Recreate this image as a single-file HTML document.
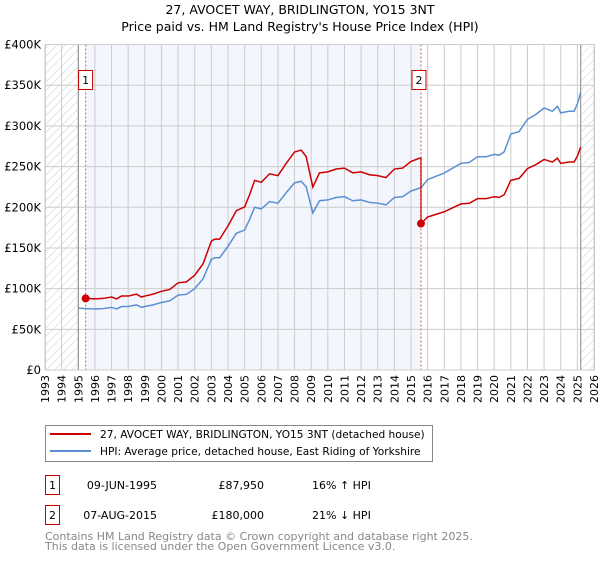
<!DOCTYPE html>
<html><head><meta charset="utf-8"><style>
body{margin:0;background:#fff;font-family:"DejaVu Sans","Liberation Sans",sans-serif;}
svg text{font-family:"DejaVu Sans","Liberation Sans",sans-serif;}
</style></head><body>
<svg id="chart" width="600" height="560" viewBox="0 0 600 560" xmlns="http://www.w3.org/2000/svg">
<defs>
<pattern id="hatch" width="6" height="6" patternUnits="userSpaceOnUse" patternTransform="rotate(45)">
<line x1="0" y1="0" x2="0" y2="6" stroke="#ccc" stroke-width="1"/>
</pattern>
</defs>
<text x="300" y="14" text-anchor="middle" font-size="12.5" fill="#000">27, AVOCET WAY, BRIDLINGTON, YO15 3NT</text>
<text x="300" y="31" text-anchor="middle" font-size="12.5" fill="#000">Price paid vs. HM Land Registry's House Price Index (HPI)</text>
<g id="plot"></g>
<g>
<rect x="45.5" y="425.5" width="387" height="36" fill="#fff" stroke="#888"/>
<line x1="50" y1="434" x2="91" y2="434" stroke="#cc0000" stroke-width="2"/>
<text x="100" y="438" font-size="10.6">27, AVOCET WAY, BRIDLINGTON, YO15 3NT (detached house)</text>
<line x1="50" y1="451" x2="91" y2="451" stroke="#5b8fd4" stroke-width="2"/>
<text x="100" y="455" font-size="10.6">HPI: Average price, detached house, East Riding of Yorkshire</text>
</g>
<g>
<rect x="45.5" y="475.5" width="14" height="19" fill="#fff" stroke="#cc0000"/>
<text x="52.5" y="489" font-size="11" text-anchor="middle">1</text>
<text x="157" y="489" font-size="11" text-anchor="end">09-JUN-1995</text>
<text x="264" y="489" font-size="11" text-anchor="end">£87,950</text>
<text x="312" y="489" font-size="11">16% ↑ HPI</text>
<rect x="45.5" y="505.5" width="14" height="19" fill="#fff" stroke="#cc0000"/>
<text x="52.5" y="519" font-size="11" text-anchor="middle">2</text>
<text x="157" y="519" font-size="11" text-anchor="end">07-AUG-2015</text>
<text x="264" y="519" font-size="11" text-anchor="end">£180,000</text>
<text x="312" y="519" font-size="11">21% ↓ HPI</text>
</g>
<text x="45" y="540" font-size="11" fill="#888">Contains HM Land Registry data © Crown copyright and database right 2025.</text>
<text x="45" y="550" font-size="11" fill="#888">This data is licensed under the Open Government Licence v3.0.</text>
</svg>
<script>
const hpiYears = [1995.0,1995.44,1996,1996.5,1997,1997.3,1997.6,1998,1998.5,1998.8,1999,1999.5,2000,2000.5,2001,2001.5,2002,2002.5,2003,2003.2,2003.5,2004,2004.5,2005,2005.3,2005.6,2006,2006.5,2007,2007.5,2008,2008.4,2008.7,2009.1,2009.5,2010,2010.5,2011,2011.5,2012,2012.5,2013,2013.5,2014,2014.5,2015,2015.6,2016,2016.5,2017,2017.5,2018,2018.5,2019,2019.5,2020,2020.3,2020.6,2021,2021.5,2022,2022.5,2023,2023.5,2023.8,2024,2024.5,2024.8,2025,2025.2];
const hpiValues = [76,75.5,75,75.5,77,75,78,78,80,77,78,80,83,85,92,93,100,112,136,138,138,152,168,172,185,200,198,207,205,218,230,232,225,193,208,209,212,213,208,209,206,205,203,212,213,220,224,234,238,242,248,254,255,262,262,265,264,268,290,293,308,314,322,318,324,316,318,318,327,341];
const saleYears = [1995.44, 2015.6];
const salePrices = [87950, 180000];
const yTicks = [0,50000,100000,150000,200000,250000,300000,350000,400000];
const yTickLabels = ["£0","£50K","£100K","£150K","£200K","£250K","£300K","£350K","£400K"];
const xTicks = [1993,1994,1995,1996,1997,1998,1999,2000,2001,2002,2003,2004,2005,2006,2007,2008,2009,2010,2011,2012,2013,2014,2015,2016,2017,2018,2019,2020,2021,2022,2023,2024,2025,2026];

const NS="http://www.w3.org/2000/svg";
const X0=45,X1=594,Y0=370,Y1=44.5;
const xs=y=>X0+(y-1993)/(2026-1993)*(X1-X0);
const ys=v=>Y0-v/400000*(Y0-Y1);
const g=document.getElementById('plot');
function mk(t,a){const e=document.createElementNS(NS,t);for(const k in a)e.setAttribute(k,a[k]);g.appendChild(e);return e;}

let e;
e=mk('rect',{x:X0,y:Y1,width:X1-X0,height:Y0-Y1,fill:'#fff'});


e=mk('rect',{x:xs(saleYears[0]),y:Y1,width:xs(saleYears[1])-xs(saleYears[0]),height:Y0-Y1,fill:'#f3f6fd'});


e=mk('rect',{x:X0,y:Y1,width:xs(1995)-X0,height:Y0-Y1,fill:'url(#hatch)'});


e=mk('rect',{x:xs(2025.2),y:Y1,width:X1-xs(2025.2),height:Y0-Y1,fill:'url(#hatch)'});



yTicks.forEach((v,i)=>{
  e=mk('line',{x1:X0,x2:X1,y1:ys(v),y2:ys(v),stroke:'#ccc','stroke-width':1});
  
  
  e=mk('text',{x:X0-4,y:ys(v)+4,'text-anchor':'end','font-size':11.5});
  e.textContent=yTickLabels[i];
  
  
});
xTicks.forEach(t=>{
  e=mk('line',{x1:xs(t),x2:xs(t),y1:Y1,y2:Y0,stroke:'#ccc','stroke-width':1});
  
  
  e=mk('text',{x:0,y:0,'text-anchor':'end','font-size':11,transform:`translate(${xs(t)+4},375) rotate(-90)`});
  e.textContent=String(t);
  
  
});
[1995,2025.2].forEach(t=>{
  e=mk('line',{x1:xs(t),x2:xs(t),y1:Y1,y2:Y0,stroke:'#888','stroke-width':1});
  
  
});

function hpiAt(y){for(let i=1;i<hpiYears.length;i++){if(y<=hpiYears[i]){const f=(y-hpiYears[i-1])/(hpiYears[i]-hpiYears[i-1]);return hpiValues[i-1]+f*(hpiValues[i]-hpiValues[i-1]);}}return hpiValues[hpiValues.length-1];}

e=mk('polyline',{points:hpiYears.map((y,i)=>xs(y)+','+ys(hpiValues[i]*1000)).join(' '),fill:'none',stroke:'#5b8fd4','stroke-width':1.5});



const r1=salePrices[0]/(hpiAt(saleYears[0])*1000), r2=salePrices[1]/(hpiAt(saleYears[1])*1000);
const pts=[];
hpiYears.forEach((y,i)=>{ if(y>saleYears[0]&&y<saleYears[1]) pts.push([y,hpiValues[i]*1000*r1]); });
pts.unshift([saleYears[0],salePrices[0]]);
pts.push([saleYears[1],hpiAt(saleYears[1])*1000*r1]);
pts.push([saleYears[1],salePrices[1]]);
hpiYears.forEach((y,i)=>{ if(y>saleYears[1]) pts.push([y,hpiValues[i]*1000*r2]); });
e=mk('polyline',{points:pts.map(p=>xs(p[0])+','+ys(p[1])).join(' '),fill:'none',stroke:'#cc0000','stroke-width':1.5});



saleYears.forEach((y,i)=>{
  e=mk('line',{x1:xs(y),x2:xs(y),y1:Y1,y2:Y0,stroke:'#e06060','stroke-width':1,'stroke-dasharray':'2,2'});
  
  
  e=mk('circle',{cx:xs(y),cy:ys(salePrices[i]),r:4,fill:'#cc0000'});
  
  
  e=mk('rect',{x:xs(y)-(i?16:14)+7,y:70.5,width:14,height:19,fill:'#fff',stroke:'#cc0000'});
  
  
  e=mk('text',{x:xs(y)-(i?16:14)+14,y:84,'text-anchor':'middle','font-size':11});
  e.textContent=String(i+1);
  
  
});
e=mk('rect',{x:X0+0.5,y:Y1,width:X1-X0,height:Y0-Y1,fill:'none',stroke:'#ccc'});


</script>
</body></html>
